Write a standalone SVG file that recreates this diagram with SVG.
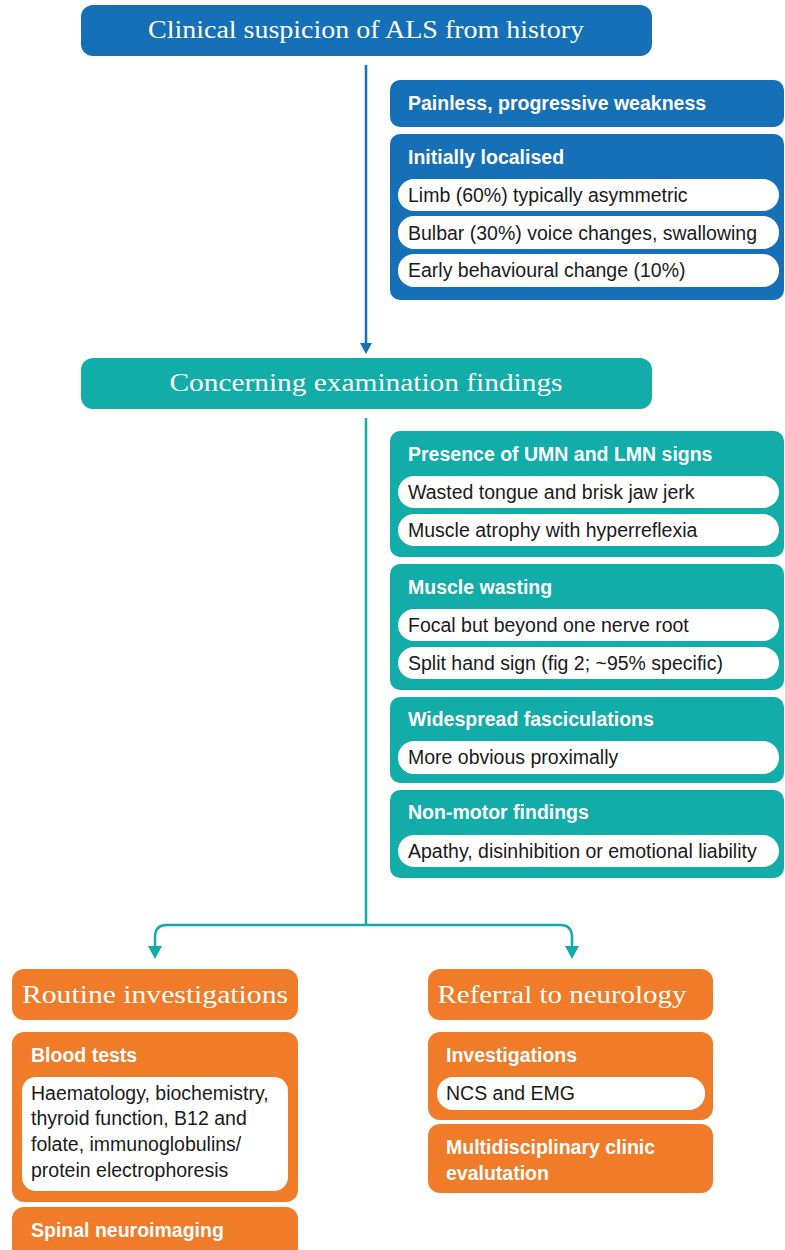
<svg xmlns="http://www.w3.org/2000/svg" width="785" height="1250" viewBox="0 0 785 1250">
<style>
.blue{fill:#1570b8}
.teal{fill:#12aca9}
.orange{fill:#f07b28}
.pill{fill:#ffffff}
.title{font-family:"Liberation Serif","Times New Roman",serif;font-size:25px;fill:#ffffff;text-anchor:middle}
.head{font-family:"Liberation Sans",Arial,sans-serif;font-size:19.5px;font-weight:bold;fill:#ffffff}
.body{font-family:"Liberation Sans",Arial,sans-serif;font-size:19.5px;fill:#1a1a1a}
</style>
<g id="connectors">
<line x1="366" y1="65" x2="366" y2="345" stroke="#1570b8" stroke-width="2.5"/>
<path d="M360,343 L372,343 L366,354 Z" fill="#1570b8"/>
<line x1="366" y1="418" x2="366" y2="925" stroke="#12aca9" stroke-width="2.5"/>
<path d="M155,948 L155,937 Q155,925 167,925 L560,925 Q572,925 572,937 L572,948" fill="none" stroke="#12aca9" stroke-width="2.5"/>
<path d="M148,946 L162,946 L155,959 Z" fill="#12aca9"/>
<path d="M565,946 L579,946 L572,959 Z" fill="#12aca9"/>
</g>
<g id="n-clinical">
<rect class="blue" x="81" y="5" width="571" height="51" rx="12"/>
<text class="title" x="366" y="38" textLength="436" lengthAdjust="spacingAndGlyphs">Clinical suspicion of ALS from history</text>
</g>
<g id="n-painless">
<rect class="blue" x="390" y="80" width="394" height="47" rx="10"/>
<text class="head" x="408" y="110">Painless, progressive weakness</text>
</g>
<g id="n-localised">
<rect class="blue" x="390" y="134" width="394" height="166" rx="10"/>
<text class="head" x="408" y="164">Initially localised</text>
<rect class="pill" x="398" y="179" width="381" height="32" rx="16"/>
<text class="body" x="408" y="202">Limb (60%) typically asymmetric</text>
<rect class="pill" x="398" y="216" width="381" height="33" rx="16"/>
<text class="body" x="408" y="240">Bulbar (30%) voice changes, swallowing</text>
<rect class="pill" x="398" y="254" width="381" height="33" rx="16"/>
<text class="body" x="408" y="277">Early behavioural change (10%)</text>
</g>
<g id="n-concerning">
<rect class="teal" x="81" y="358" width="571" height="51" rx="12"/>
<text class="title" x="366" y="391" textLength="393" lengthAdjust="spacingAndGlyphs">Concerning examination findings</text>
</g>
<g id="n-umn">
<rect class="teal" x="390" y="431" width="394" height="126" rx="10"/>
<text class="head" x="408" y="461">Presence of UMN and LMN signs</text>
<rect class="pill" x="398" y="476" width="381" height="32" rx="16"/>
<text class="body" x="408" y="499">Wasted tongue and brisk jaw jerk</text>
<rect class="pill" x="398" y="514" width="381" height="32" rx="16"/>
<text class="body" x="408" y="537">Muscle atrophy with hyperreflexia</text>
</g>
<g id="n-wasting">
<rect class="teal" x="390" y="564" width="394" height="126" rx="10"/>
<text class="head" x="408" y="594">Muscle wasting</text>
<rect class="pill" x="398" y="609" width="381" height="32" rx="16"/>
<text class="body" x="408" y="632">Focal but beyond one nerve root</text>
<rect class="pill" x="398" y="647" width="381" height="32" rx="16"/>
<text class="body" x="408" y="670">Split hand sign (fig 2; ~95%  specific)</text>
</g>
<g id="n-fasc">
<rect class="teal" x="390" y="697" width="394" height="86" rx="10"/>
<text class="head" x="408" y="726">Widespread fasciculations</text>
<rect class="pill" x="398" y="741" width="381" height="33" rx="16"/>
<text class="body" x="408" y="764">More obvious proximally</text>
</g>
<g id="n-nonmotor">
<rect class="teal" x="390" y="790" width="394" height="88" rx="10"/>
<text class="head" x="408" y="819">Non-motor findings</text>
<rect class="pill" x="398" y="835" width="381" height="32" rx="16"/>
<text class="body" x="408" y="858">Apathy, disinhibition or emotional liability</text>
</g>
<g id="n-routine">
<rect class="orange" x="12" y="969" width="286" height="51" rx="12"/>
<text class="title" x="155" y="1003" textLength="266" lengthAdjust="spacingAndGlyphs">Routine investigations</text>
</g>
<g id="n-blood">
<rect class="orange" x="12" y="1032" width="286" height="170" rx="12"/>
<text class="head" x="31" y="1062">Blood tests</text>
<rect class="pill" x="22" y="1077" width="266" height="114" rx="14"/>
<text class="body" x="31" y="1100">Haematology, biochemistry,</text>
<text class="body" x="31" y="1125">thyroid function, B12 and</text>
<text class="body" x="31" y="1151">folate, immunoglobulins/</text>
<text class="body" x="31" y="1177">protein electrophoresis</text>
</g>
<g id="n-spinal">
<rect class="orange" x="12" y="1207" width="286" height="60" rx="12"/>
<text class="head" x="31" y="1237">Spinal neuroimaging</text>
</g>
<g id="n-referral">
<rect class="orange" x="428" y="969" width="285" height="51" rx="12"/>
<text class="title" x="562" y="1003" textLength="249" lengthAdjust="spacingAndGlyphs">Referral to neurology</text>
</g>
<g id="n-invest">
<rect class="orange" x="428" y="1032" width="285" height="88" rx="12"/>
<text class="head" x="446" y="1062">Investigations</text>
<rect class="pill" x="437" y="1077" width="268" height="33" rx="16"/>
<text class="body" x="446" y="1100">NCS and EMG</text>
</g>
<g id="n-mdt">
<rect class="orange" x="428" y="1124" width="285" height="69" rx="12"/>
<text class="head" x="446" y="1154">Multidisciplinary clinic</text>
<text class="head" x="446" y="1180">evalutation</text>
</g>
</svg>
